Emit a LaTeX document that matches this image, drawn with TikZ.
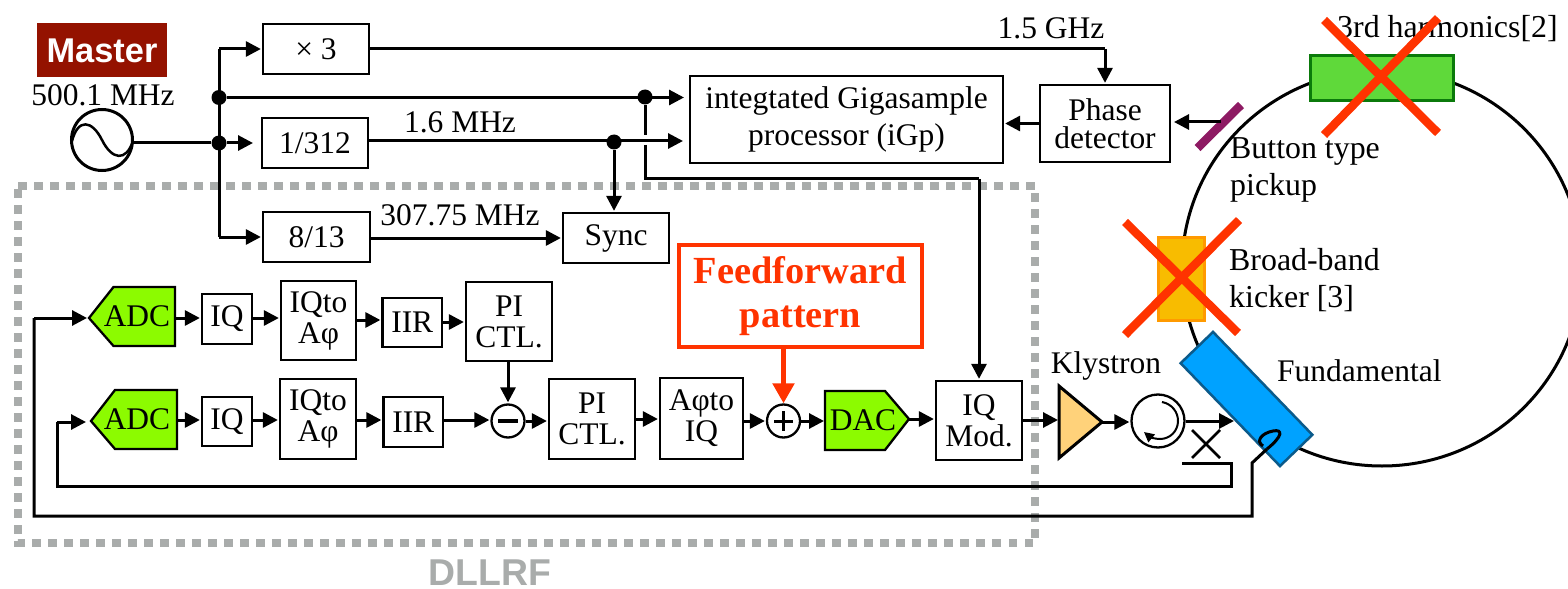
\documentclass[tikz,border=0pt]{standalone}
\usepackage{fontspec}
\setmainfont{Liberation Serif}
\setsansfont{Liberation Sans}
\usetikzlibrary{arrows.meta,shapes.geometric}
\newcommand{\fsz}[1]{\fontsize{31.6}{#1}\selectfont}
\definecolor{redx}{HTML}{FF3300}
\definecolor{dotgray}{HTML}{A9ACAB}
\definecolor{adcgreen}{HTML}{8CFB00}
\definecolor{masterred}{HTML}{941200}
\definecolor{pickupc}{HTML}{8E1A63}
\tikzset{
  x=1bp,y=-1bp,
  stdfont/.style={font=\fsz{31}},
  boxn/.style={draw=black,line width=2.3bp,fill=white,inner sep=0pt,align=center,stdfont},
  txt/.style={inner sep=0pt,align=center,stdfont},
  txtl/.style={inner sep=0pt,align=left,anchor=west,font=\fontsize{32}{36.5}\selectfont},
  ln/.style={line width=3bp,draw=black},
  arr/.style={line width=3bp,draw=black,-{Triangle[length=15bp,width=15bp]},shorten >=1bp},
  dot/.style={circle,fill=black,inner sep=0pt,minimum size=15bp},
  crossx/.style={draw=redx,line width=8.5bp},
  sumc/.style={circle,draw=black,line width=2.3bp,fill=white,inner sep=0pt,minimum size=33bp},
}
\newcommand{\bx}[6]{\node[boxn,minimum width=#4bp-#2bp,minimum height=#5bp-#3bp] (#1) at ({(#2+#4)/2},{(#3+#5)/2}) {#6};}
\begin{document}
\begin{tikzpicture}
\useasboundingbox (0,0) rectangle (1568,589);
% DLLRF border
\draw[draw=dotgray,line width=8bp,dash pattern=on 8.5bp off 7.5bp] (18,186) -- (1035,186) -- (1035,543) -- (18,543) -- cycle;
\node[inner sep=0pt,text=dotgray,font=\sffamily\bfseries\fontsize{37.5}{40}\selectfont,anchor=base] (dllrf) at (490,585) {DLLRF};
% Ring
\begin{scope}
\clip (0,0) rectangle (1568,589);
\draw[line width=3bp] (1382,268) ellipse [x radius=200bp,y radius=198bp];
\end{scope}
% Master
\node[fill=masterred,inner sep=0pt,minimum width=129bp,minimum height=54bp,text=white,font=\sffamily\bfseries\fontsize{34.5}{36}\selectfont] (master) at (102,50.5) {Master};
\node[txt] (mhz) at (103,95) {500.1 MHz};
\node[circle,draw=black,line width=3bp,inner sep=0pt,minimum size=61bp] (src) at (102,140) {};
\draw[line width=2.5bp] (72,141) .. controls (78,118) and (92,120) .. (102,140) .. controls (112,160) and (126,162) .. (133,141);
% Upper blocks
\bx{x3}{263}{24}{369}{74}{× 3}
\bx{d312}{262}{118}{368}{168}{1/312}
\bx{d813}{263}{212}{370}{262}{8/13}
\bx{sync}{563}{213}{669}{263}{Sync}
\node[boxn,font=\fsz{38},minimum width=313bp,minimum height=87bp] (igp) at (846.5,119.5) {integtated Gigasample\\processor (iGp)};
\node[boxn,font=\fsz{28},minimum width=130bp,minimum height=77bp] (phase) at (1105,123.5) {Phase\\detector};
% Bus
\coordinate (jtop) at (219,49);
\coordinate (jbot) at (219,237);
\node[dot] (j1) at (219,97.5) {};
\node[dot] (j2) at (219,143) {};
\node[dot] (j3) at (645,97) {};
\node[dot] (j4) at (614,142) {};
\draw[ln] (jbot) -- (jtop);
\draw[arr] (jtop) -- (jtop -| x3.west);
\draw[arr] (jbot) -- (jbot -| d813.west);
\draw[ln] (src.east |- j2) -- (j2);
\draw[arr] (j2) -- (254,143);
\draw[arr] (j1) -- (685,97.5);
\draw[arr] (d312.east |- 0,141) -- (684,141);
\draw[arr] (j4) -- (j4 |- sync.north);
\draw[arr] (d813.east |- 0,238) -- (sync.west |- 0,238);
\coordinate (c1) at (645,135);
\coordinate (c2) at (645,145);
\coordinate (c3) at (645,179);
\coordinate (c4) at (979,179);
\draw[ln] (j3) -- (c1);
% 1.5 GHz
\coordinate (ghz) at (1105,49);
\draw[ln] (x3.east |- ghz) -- (ghz);
\draw[arr] (ghz) -- (phase.north);
\node[txt] (l15) at (1051,28) {1.5 GHz};
\node[txt] (l16) at (460,122) {1.6 MHz};
\node[txt] (l307) at (460,215) {307.75 MHz};
\draw[arr] (phase.west) -- (igp.east |- phase.west);
% Pickup
\coordinate (pk1) at (1241,105);
\coordinate (pk2) at (1197.5,148);
\draw[draw=pickupc,line width=8.5bp] (pk1) -- (pk2);
\coordinate (pkm) at (1221,122);
\draw[arr] (pkm) -- (1173,122);
% Labels on right
\node[inner sep=0pt,anchor=west,font=\fontsize{32}{34}\selectfont] (h3) at (1337,29) {3rd harmonics[2]};
\node[txtl] (btn) at (1230,170) {Button type\\pickup};
\node[txtl] (bbk) at (1229,280) {Broad-band\\kicker [3]};
\node[inner sep=0pt,anchor=west,stdfont] (fund) at (1277,371) {Fundamental};
\node[txt] (kly) at (1106,366) {Klystron};
% Cavities
\node[draw={rgb,255:red,11;green,122;blue,11},fill={rgb,255:red,95;green,217;blue,58},line width=3bp,inner sep=0pt,minimum width=143bp,minimum height=45bp] (c3h) at (1382,78) {};
\node[draw={rgb,255:red,255;green,154;blue,0},fill={rgb,255:red,248;green,188;blue,0},line width=3bp,inner sep=0pt,minimum width=46bp,minimum height=83bp] (kick) at (1181.5,279) {};
\node[draw={rgb,255:red,11;green,90;blue,138},fill={rgb,255:red,0;green,162;blue,255},line width=2.5bp,shape=rectangle,inner sep=0pt,minimum width=143bp,minimum height=45bp,rotate=-46] (fnd) at (1246.5,399) {};
% Red crosses
\draw[crossx] (1324,20) -- (1438,133);
\draw[crossx] (1438,18) -- (1324,135);
\draw[crossx] (1125,222) -- (1238,333);
\draw[crossx] (1239,220) -- (1125,335);
% Lower row 1
\fill[adcgreen,draw=black,line width=2.3bp] (89,318) -- (113.5,287) -- (175,287) -- (175,346) -- (113.5,346) -- cycle;
\node[inner sep=0pt,minimum width=86bp,minimum height=59bp,stdfont] (adc1) at (132,316.5) {\hspace{10bp}ADC};
\bx{iq1}{202}{294}{252}{344}{IQ}
\bx{iqa1}{281}{281}{356}{360}{IQto\\Aφ}
\bx{iir1}{382.5}{298}{442}{347}{IIR}
\bx{pi1}{466}{282}{552}{361}{PI\\CTL.}
% Lower row 2
\fill[adcgreen,draw=black,line width=2.3bp] (91,421) -- (115,390) -- (177,390) -- (177,449) -- (115,449) -- cycle;
\node[inner sep=0pt,minimum width=86bp,minimum height=59bp,stdfont] (adc2) at (134,419.5) {\hspace{6bp}ADC};
\bx{iq2}{202}{397}{252}{446}{IQ}
\bx{iqa2}{280}{379}{356}{459}{IQto\\Aφ}
\bx{iir2}{383.5}{397}{443}{447}{IIR}
\node[sumc] (minus) at (508,421) {};
\draw[line width=3.5bp] (498,421) -- (518,421);
\bx{pi2}{549}{379}{635}{459}{PI\\CTL.}
\bx{afi}{660}{378}{743}{459}{Aφto\\IQ}
\node[sumc] (plus) at (783.5,421) {};
\draw[line width=3bp] (774,421) -- (793,421) (783.5,411) -- (783.5,431);
\fill[adcgreen,draw=black,line width=2.3bp] (825,391) -- (885,391) -- (909,419) -- (885,450) -- (825,450) -- cycle;
\node[inner sep=0pt,minimum width=84bp,minimum height=59bp,stdfont] (dac) at (867,420.5) {\hspace{-8bp}DAC};
\bx{iqm}{936}{381}{1022}{460}{IQ\\Mod.}
\node[draw=redx,line width=3.5bp,fill=white,inner sep=0pt,minimum width=243bp,minimum height=102bp,align=center,text=redx,font=\bfseries\fontsize{38.5}{45}\selectfont] (ff) at (800.5,296) {Feedforward\\pattern};
% Connectors row 1
\draw[arr] (175,318) -- (iq1.west |- 0,318);
\draw[arr] (iq1.east |- 0,318) -- (iqa1.west |- 0,318);
\draw[arr] (iqa1.east |- 0,320) -- (iir1.west |- 0,320);
\draw[arr] (iir1.east |- 0,322) -- (pi1.west |- 0,322);
\draw[arr] (pi1.south -| minus) -- (minus.north);
% Connectors row 2
\draw[arr] (177,420) -- (iq2.west |- 0,420);
\draw[arr] (iq2.east |- 0,420) -- (iqa2.west |- 0,420);
\draw[arr] (iqa2.east |- 0,420) -- (iir2.west |- 0,420);
\draw[arr] (iir2.east |- 0,420) -- (minus.west |- 0,420);
\draw[arr] (minus.east) -- (pi2.west |- minus.east);
\draw[arr] (pi2.east |- 0,419) -- (afi.west |- 0,419);
\draw[arr] (afi.east |- plus.west) -- (plus.west);
\draw[arr] (plus.east) -- (825,421);
\draw[arr] (909,419) -- (iqm.west |- 0,419);
\draw[draw=redx,line width=5bp,-{Triangle[length=20bp,width=21bp]}] (ff.south -| plus) -- (plus.north);
% Return to IQ Mod
\draw[ln] (c2) -- (c3) -- (c4);
\draw[arr] (c4) -- (iqm.north -| c4);
% Klystron, circulator
\fill[draw=black,fill={rgb,255:red,255;green,210;blue,122},line width=3bp] (1059,386) -- (1102,422) -- (1059,458) -- cycle;
\coordinate (klyin) at (1059,420);
\coordinate (klyout) at (1102,422);
\node[circle,draw=black,line width=2.3bp,inner sep=0pt,minimum size=53bp,fill=white] (circ) at (1158,421) {};
\draw[line width=2bp,-{Triangle[length=10bp,width=10bp]}] (1162,402) .. controls (1172,404) and (1178,412) .. (1178,421) .. controls (1178,431) and (1170,439) .. (1160,439) .. controls (1155,439) and (1150,437) .. (1144,432);
\draw[arr] (iqm.east |- klyin) -- (klyin);
\draw[arr] (klyout) -- (circ.west |- klyout);
\coordinate (fin) at (1235,421);
\draw[arr] (circ.east) -- (fin);
% Coupler
\coordinate (cxa) at (1192,430); \coordinate (cxb) at (1220,458);
\coordinate (cxc) at (1220,430); \coordinate (cxd) at (1192,458);
\draw[line width=2.6bp] (cxa) -- (cxb) (cxc) -- (cxd);
% Feedback lines
\coordinate (fa) at (1182,463);
\coordinate (fb) at (1231,463);
\coordinate (fc) at (1231,486);
\coordinate (fd) at (57,486);
\coordinate (fe) at (57,422);
\draw[ln] (fa) -- (fb) -- (fc) -- (fd) -- (fe);
\draw[arr] (fe) -- (87,422);
\coordinate (ga) at (1252,463);
\coordinate (gb) at (1252,516);
\coordinate (gc) at (34,516);
\coordinate (gd) at (34,318);
\draw[ln] (1267,449) -- (ga) -- (gb) -- (gc) -- (gd);
\draw[arr] (gd) -- (88,318);
\draw[line width=3bp] (1267,449) .. controls (1283,436) and (1283,429) .. (1273,431) .. controls (1262,433) and (1255,441) .. (1263,446);
\end{tikzpicture}
\end{document}
